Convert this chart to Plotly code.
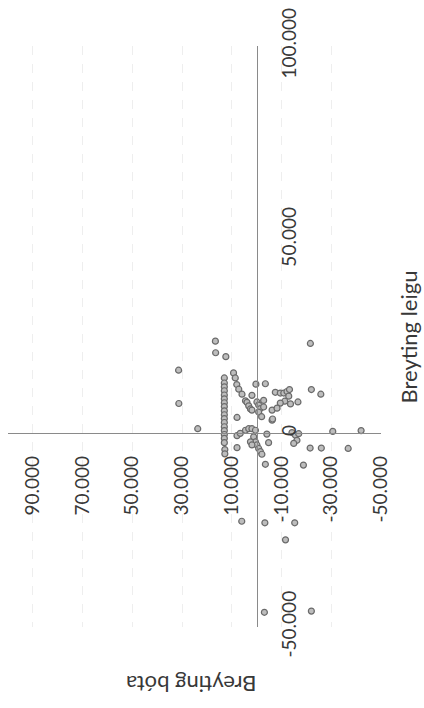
import plotly.graph_objects as go

# Change in benefits (Breyting bóta) and change in rent (Breyting leigu), kr
bota = [
    16600, 16500, 12400, 31400, 31300, 23700, 6000, -3300, -15300, -11600,
    -3100, -22000, -21600, -30600, -42000, -21500, -26000, -36800, -18800, -3500,
    -22000, -25800,
    13000, 13000, 13000, 13000, 13000, 13000, 13000, 13000, 13000, 13000,
    13000, 13000, 13000, 13000, 13000, 13000, 13000, 12800, 12800,
    9300, 8600, 8000, 7200, 5900, 4500, 3900, 3200, 2500, 1900,
    300, -3500, 1900, -100, -800, -1500, -2800, -2800, -800, 7900,
    -6200, -6200, -2000, -7500, -9500, -10900, -12200, -13200, -12900, -11300,
    -9500, -8200, -13600, -16600,
    7900, 6600, 4500, 3200, 1900, 500, 1200, 500, -100, -800,
    -1500, 2500, 1900, -4100, 7900, -4800, -2100, -14200, -15600, -16900,
    -16200, -14900, -6400,
]
leigu = [
    23800, 20800, 19800, 16300, 7700, 1200, -22700, -23100, -23100, -27500,
    -46200, -45900, 23200, 500, 700, -3800, -3800, -3900, -8200, -8000,
    11300, 10100,
    14300, 13000, 12000, 11000, 9900, 8900, 7900, 6900, 5800, 4800,
    3800, 2800, 1700, 700, -300, -1300, -2400, -4200, -5300,
    15600, 14300, 12600, 11400, 10100, 8400, 8000, 7100, 6300, 6000,
    12700, 12800, 9800, 8100, 7300, 6400, 8500, 6800, 5500, 4100,
    6000, 3400, 4300, 10600, 10400, 10400, 10800, 11300, 9600, 8300,
    7800, 6500, 7600, 8100,
    -600, 0, 800, 1200, 1200, 800, -900, -2200, -3000, -3900,
    -4700, -2200, -3000, -200, -3700, -2400, -5400, 200, -500, -100,
    -1800, -2600, 3700,
]

bota_ticks = [-50000, -30000, -10000, 10000, 30000, 50000, 70000, 90000]
bota_tick_labels = ["-50.000", "-30.000", "-10.000", "10.000", "30.000",
                    "50.000", "70.000", "90.000"]
leigu_ticks = [-50000, 0, 50000, 100000]
leigu_tick_labels = ["-50.000", "0", "50.000", "100.000"]

bota_range = [100000, -50000]
leigu_range = [-50000, 100000]

FONT = "Lato"
TEXT = "#383838"
AXIS = "#8a8a8a"

fig = go.Figure(
    go.Scatter(
        x=bota,
        y=leigu,
        mode="markers",
        marker=dict(size=6, color="#bdbdbd",
                    line=dict(color="#6a6a6a", width=1.2)),
        hoverinfo="skip",
    )
)

# Axes cross at zero; labels sit beside the crossing lines, turned a quarter.
x_pos = (0 - leigu_range[0]) / (leigu_range[1] - leigu_range[0])
y_pos = (bota_range[0] - 0) / (bota_range[0] - bota_range[1])

fig.update_layout(
    width=424,
    height=708,
    margin=dict(l=8, r=43, t=42, b=81),
    paper_bgcolor="white",
    plot_bgcolor="white",
    showlegend=False,
    font=dict(family=FONT, color=TEXT),
    xaxis=dict(
        range=bota_range,
        anchor="free",
        position=x_pos,
        showline=True,
        linecolor=AXIS,
        linewidth=1,
        ticks="",
        tickvals=bota_ticks,
        ticktext=bota_tick_labels,
        tickangle=-90,
        tickfont=dict(size=19, family=FONT, color=TEXT),
        ticklabelstandoff=14,
        showgrid=True,
        gridcolor="#eeeeee",
        griddash="dash",
        gridwidth=1,
        zeroline=False,
    ),
    yaxis=dict(
        range=leigu_range,
        anchor="free",
        position=y_pos,
        side="right",
        showline=True,
        linecolor=AXIS,
        linewidth=1,
        ticks="",
        tickvals=leigu_ticks,
        ticktext=leigu_tick_labels,
        tickangle=-90,
        tickfont=dict(size=19, family=FONT, color=TEXT),
        ticklabelstandoff=16,
        showgrid=False,
        zeroline=False,
    ),
    annotations=[
        dict(text="Breyting leigu", xref="paper", yref="paper",
             x=1.075, y=0.5, xanchor="center", yanchor="middle",
             textangle=-90, showarrow=False,
             font=dict(size=22, family=FONT, color=TEXT)),
        dict(text="Breyting bóta", xref="paper", yref="paper",
             x=0.49, y=-0.099, xanchor="center", yanchor="middle",
             textangle=180, showarrow=False,
             font=dict(size=22, family=FONT, color=TEXT)),
    ],
)

fig.write_html("out.html")
